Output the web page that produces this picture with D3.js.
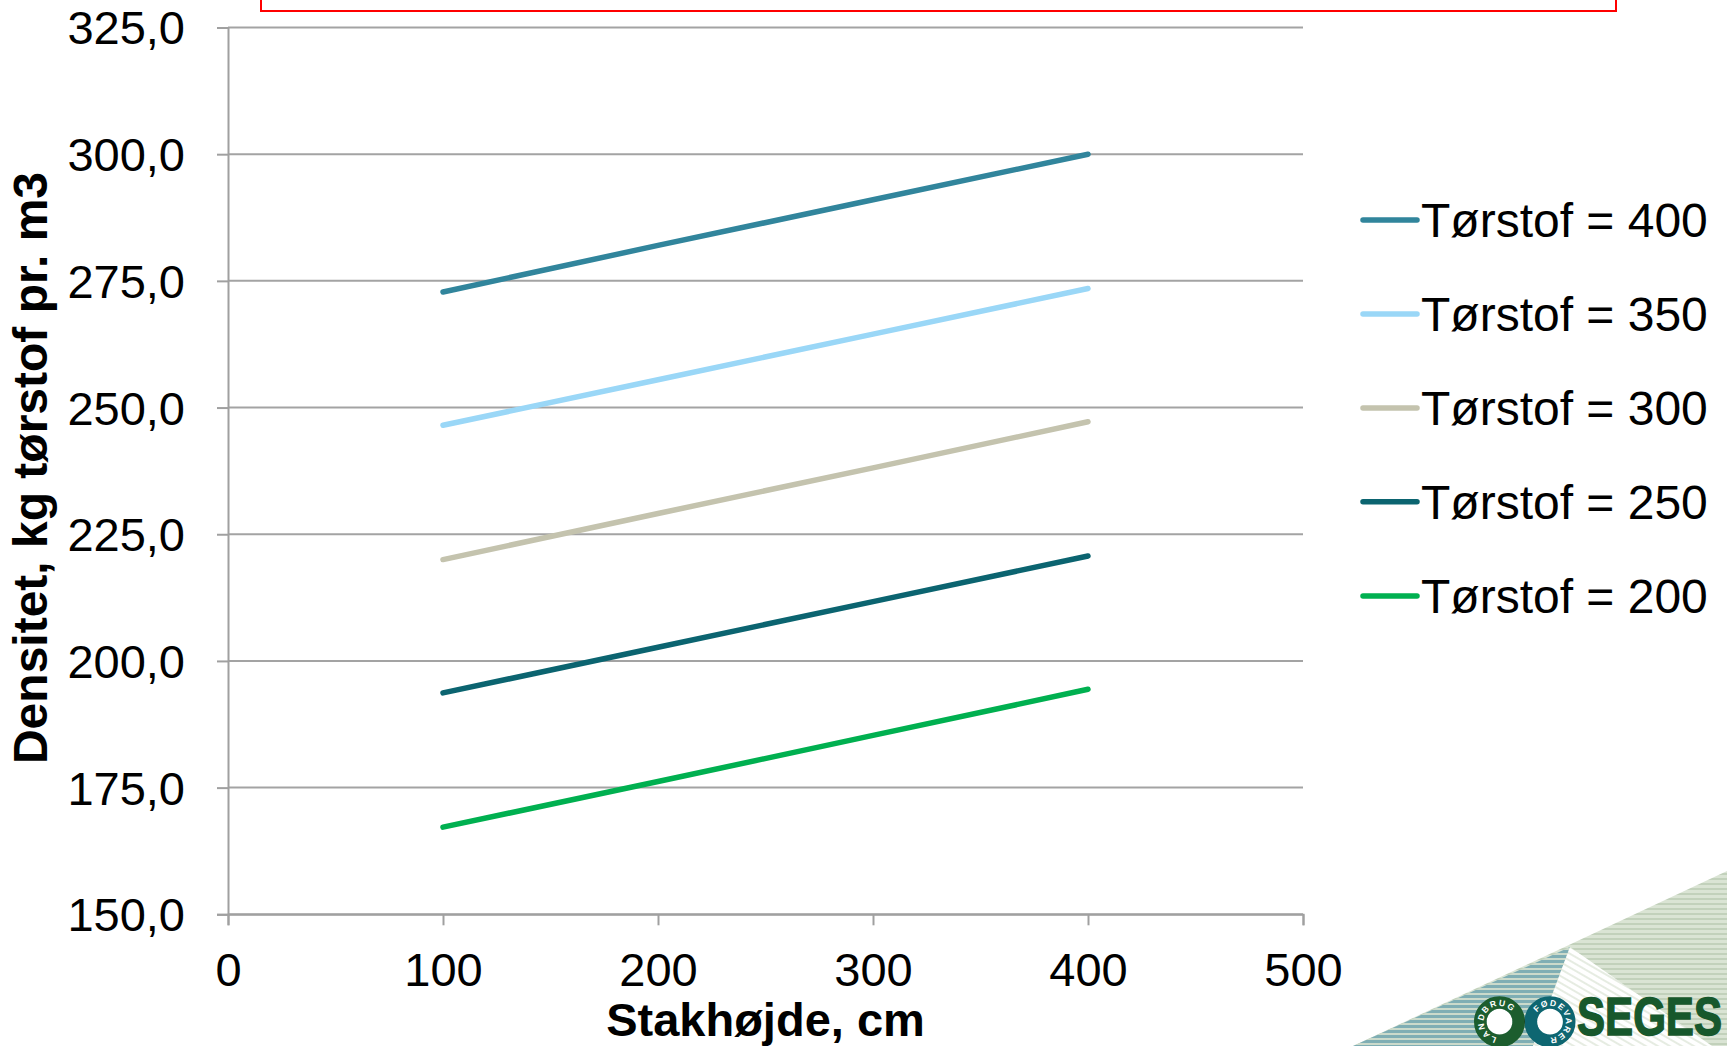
<!DOCTYPE html>
<html>
<head>
<meta charset="utf-8">
<script src="https://cdn.jsdelivr.net/npm/d3@7"></script>
<style>
  html, body { margin: 0; padding: 0; background: #ffffff; overflow: hidden; }
  svg { display: block; }
  text { font-family: "Liberation Sans", Arial, sans-serif; }
</style>
</head>
<body>
<svg id="chart" width="1727" height="1046"></svg>
<script>
// ---- data ----
const xValues = [100, 200, 300, 400];
const seriesNames = ["Tørstof = 400", "Tørstof = 350", "Tørstof = 300", "Tørstof = 250", "Tørstof = 200"];
const values400 = [272.8, 282.0, 291.0, 300.0];
const values350 = [246.5, 255.5, 264.5, 273.5];
const values300 = [220.0, 229.1, 238.1, 247.2];
const values250 = [193.7, 202.7, 211.7, 220.7];
const values200 = [167.2, 176.2, 185.3, 194.4];
const seriesColors = ["#31859C", "#9AD7F7", "#C4C3AE", "#0B6470", "#00B050"];
const xTicks = [0, 100, 200, 300, 400, 500];
const yTicks = [150, 175, 200, 225, 250, 275, 300, 325];
const xTitle = "Stakhøjde, cm";
const yTitle = "Densitet, kg tørstof pr. m3";

const allSeries = [values400, values350, values300, values250, values200];

const svg = d3.select("#chart");

// ---- scales ----
const x = d3.scaleLinear().domain([0, 500]).range([228, 1303]);
const y = d3.scaleLinear().domain([150, 325]).range([914.3, 27.5]);

// ---- red box at top ----
svg.append("rect")
  .attr("x", 261).attr("y", -20).attr("width", 1355).attr("height", 31)
  .attr("fill", "none").attr("stroke", "#FF0000").attr("stroke-width", 2);

// ---- gridlines ----
svg.append("g").selectAll("line").data(yTicks).join("line")
  .attr("x1", x(0)).attr("x2", x(500))
  .attr("y1", d => y(d)).attr("y2", d => y(d))
  .attr("stroke", "#A3A3A3").attr("stroke-width", 2);

// ---- y axis ----
const yAxis = d3.axisLeft(y).tickValues(yTicks).tickSize(11).tickPadding(32)
  .tickFormat(d => d.toFixed(1).replace(".", ","));
const gy = svg.append("g").attr("transform", `translate(${x(0)},0)`).call(yAxis);
gy.select(".domain").attr("stroke", "#A0A0A0").attr("stroke-width", 2);
gy.selectAll(".tick line").attr("stroke", "#A0A0A0").attr("stroke-width", 2);
gy.selectAll(".tick text").attr("font-size", 47).attr("fill", "#000")
  .attr("font-family", "'Liberation Sans', Arial, sans-serif")
  .attr("dy", "0.35em");

// ---- x axis ----
const xAxis = d3.axisBottom(x).tickValues(xTicks).tickSize(11).tickPadding(27);
const gx = svg.append("g").attr("transform", `translate(0,${y(150)})`).call(xAxis);
gx.select(".domain").attr("stroke", "#A0A0A0").attr("stroke-width", 2);
gx.selectAll(".tick line").attr("stroke", "#A0A0A0").attr("stroke-width", 2);
gx.selectAll(".tick text").attr("font-size", 47).attr("fill", "#000")
  .attr("font-family", "'Liberation Sans', Arial, sans-serif");

// ---- series lines ----
const line = d3.line().x((d, i) => x(xValues[i])).y(d => y(d));
svg.append("g").selectAll("path").data(allSeries).join("path")
  .attr("d", d => line(d))
  .attr("fill", "none")
  .attr("stroke", (d, i) => seriesColors[i])
  .attr("stroke-width", 5.5)
  .attr("stroke-linecap", "round")
  .attr("stroke-linejoin", "round");

// ---- axis titles ----
svg.append("text")
  .attr("x", (x(0) + x(500)) / 2).attr("y", 1036)
  .attr("text-anchor", "middle").attr("font-size", 47).attr("font-weight", "bold")
  .text(xTitle);
svg.append("text")
  .attr("transform", "translate(47,468) rotate(-90)")
  .attr("text-anchor", "middle").attr("font-size", 48).attr("font-weight", "bold")
  .text(yTitle);

// ---- legend ----
const legendY = [220, 314, 408, 501.7, 596];
const lg = svg.append("g").selectAll("g").data(seriesNames).join("g")
  .attr("transform", (d, i) => `translate(0,${legendY[i]})`);
lg.append("line").attr("x1", 1363).attr("x2", 1417).attr("y1", 0).attr("y2", 0)
  .attr("stroke", (d, i) => seriesColors[i]).attr("stroke-width", 5.5).attr("stroke-linecap", "round");
lg.append("text").attr("x", 1421).attr("y", 17).attr("font-size", 48).attr("fill", "#000")
  .text(d => d);

// ---- SEGES logo decoration ----
const defs = svg.append("defs");
function hStripes(id, c1, c2) {
  const p = defs.append("pattern").attr("id", id).attr("patternUnits", "userSpaceOnUse")
    .attr("width", 10).attr("height", 5);
  p.append("rect").attr("width", 10).attr("height", 5).attr("fill", c1);
  p.append("rect").attr("y", 3).attr("width", 10).attr("height", 2).attr("fill", c2);
}
hStripes("stTeal", "#7FAEB4", "#CBDACB");
hStripes("stGreen", "#DAE4D4", "#C2D1BB");
const pw = defs.append("pattern").attr("id", "stWhite").attr("patternUnits", "userSpaceOnUse")
  .attr("width", 6).attr("height", 6).attr("patternTransform", "rotate(30)");
pw.append("rect").attr("width", 6).attr("height", 6).attr("fill", "#FFFFFF");
pw.append("rect").attr("y", 4).attr("width", 6).attr("height", 2).attr("fill", "#E6ECE2");

const logo = svg.append("g");
logo.append("path").attr("d", "M1353,1046 L1727,871 L1727,1046 Z").attr("fill", "url(#stGreen)");
logo.append("path").attr("d", "M1353,1046 L1570,947 L1533,1046 Z").attr("fill", "url(#stTeal)");
logo.append("path").attr("d", "M1570,947 L1533,1046 L1712,1046 Z").attr("fill", "url(#stWhite)");

const cL = [1499.5, 1021.7], cR = [1550, 1021.7], rMid = 19.2, rW = 12.6;
logo.append("circle").attr("cx", cL[0]).attr("cy", cL[1]).attr("r", rMid - rW / 2).attr("fill", "#fff");
logo.append("circle").attr("cx", cR[0]).attr("cy", cR[1]).attr("r", rMid - rW / 2).attr("fill", "#fff");
logo.append("circle").attr("cx", cR[0]).attr("cy", cR[1]).attr("r", rMid)
  .attr("fill", "none").attr("stroke", "#0E6671").attr("stroke-width", rW);
logo.append("circle").attr("cx", cL[0]).attr("cy", cL[1]).attr("r", rMid)
  .attr("fill", "none").attr("stroke", "#1C5D2E").attr("stroke-width", rW);
const ro = rMid + rW / 2, ri = rMid - rW / 2;
function annulus(c) {
  return `M${c[0] - ro},${c[1]} a${ro},${ro} 0 1,0 ${2 * ro},0 a${ro},${ro} 0 1,0 ${-2 * ro},0 Z ` +
         `M${c[0] - ri},${c[1]} a${ri},${ri} 0 1,0 ${2 * ri},0 a${ri},${ri} 0 1,0 ${-2 * ri},0 Z`;
}
defs.append("clipPath").attr("id", "clipR").append("path").attr("d", annulus(cR)).attr("clip-rule", "evenodd");
logo.append("path").attr("d", annulus(cL)).attr("fill-rule", "evenodd").attr("fill", "#163A20")
  .attr("clip-path", "url(#clipR)");

function arcPath(c, r, a0, a1) {
  const p0 = [c[0] + r * Math.cos(a0), c[1] + r * Math.sin(a0)];
  const p1 = [c[0] + r * Math.cos(a1), c[1] + r * Math.sin(a1)];
  const large = (a1 - a0) > Math.PI ? 1 : 0;
  return `M${p0[0]},${p0[1]} A${r},${r} 0 ${large},1 ${p1[0]},${p1[1]}`;
}
const rad = Math.PI / 180;
defs.append("path").attr("id", "arcL").attr("d", arcPath(cL, 15.8, 100 * rad, 330 * rad));
defs.append("path").attr("id", "arcR").attr("d", arcPath(cR, 15.8, 215 * rad, 450 * rad));
logo.append("text").attr("font-size", 8.5).attr("font-weight", "bold").attr("fill", "#fff")
  .attr("letter-spacing", 1.6)
  .append("textPath").attr("href", "#arcL").text("LANDBRUG");
logo.append("text").attr("font-size", 8.5).attr("font-weight", "bold").attr("fill", "#fff")
  .attr("letter-spacing", 1.4)
  .append("textPath").attr("href", "#arcR").text("FØDEVARER");

logo.append("text").attr("x", 1577).attr("y", 1035).attr("font-size", 54).attr("font-weight", "bold")
  .attr("fill", "#17582C").attr("stroke", "#17582C").attr("stroke-width", 1.5)
  .attr("textLength", 145).attr("lengthAdjust", "spacingAndGlyphs")
  .text("SEGES");
</script>
</body>
</html>
